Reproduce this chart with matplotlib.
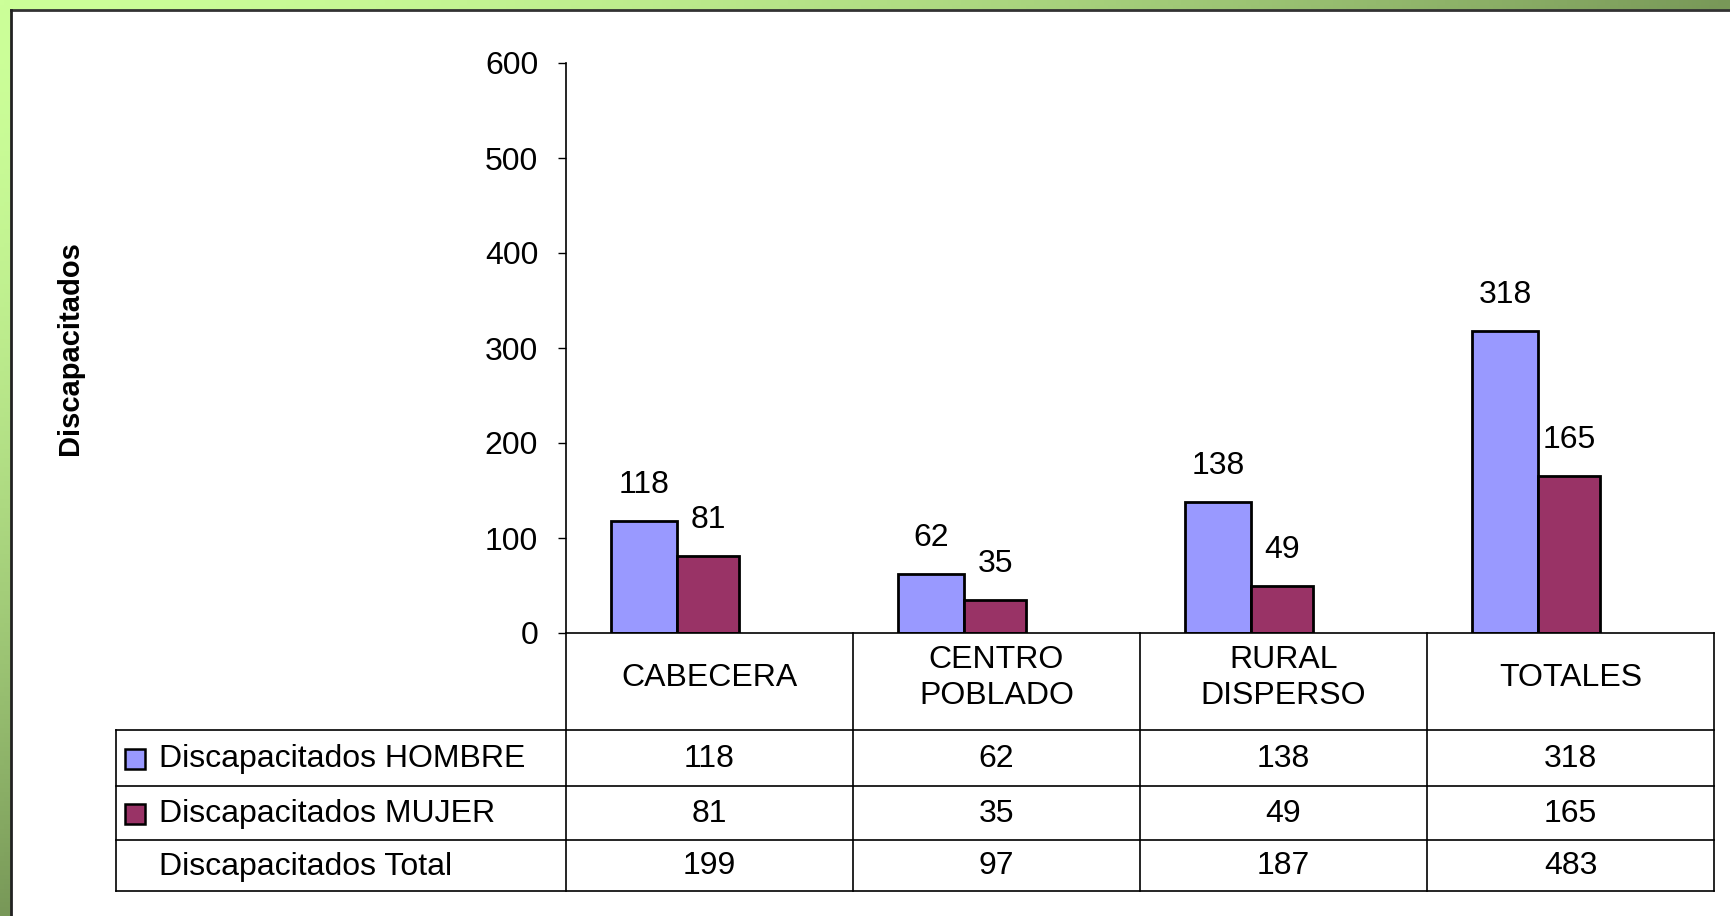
import numpy as np
import matplotlib
matplotlib.use("Agg")
import matplotlib.pyplot as plt
from matplotlib.transforms import blended_transform_factory
from matplotlib.patches import Rectangle

categories = ["CABECERA", "CENTRO\nPOBLADO", "RURAL\nDISPERSO", "TOTALES"]
hombre = [118, 62, 138, 318]
mujer = [81, 35, 49, 165]
total = [199, 97, 187, 483]
series_names = ["Discapacitados HOMBRE", "Discapacitados MUJER", "Discapacitados Total"]
yticks = [0, 100, 200, 300, 400, 500, 600]
ylabel = "Discapacitados"

c_h = "#9999ff"
c_m = "#993366"

plt.rcParams['font.family'] = ['Liberation Sans', 'DejaVu Sans']
FS = 23

W, H = 1731, 916
fig = plt.figure(figsize=(W / 100, H / 100), dpi=100)

# background gradient frame
bg = fig.add_axes([0, 0, 1, 1])
xx, yy = np.meshgrid(np.linspace(0, 1, 400), np.linspace(0, 1, 200))
t = np.clip(xx + yy, 0, 1) ** 1.7
c0 = np.array([204, 255, 153]) / 255
c1 = np.array([120, 152, 88]) / 255
img = c0[None, None, :] * (1 - t[..., None]) + c1[None, None, :] * t[..., None]
bg.imshow(img, extent=[0, W, H, 0], aspect='auto')
bg.set_xlim(0, W)
bg.set_ylim(H, 0)
bg.axis('off')
bg.add_patch(Rectangle((11, 10), W, H, facecolor='white', edgecolor='none'))
bg.plot([11, W], [10, 10], color='#333333', lw=2)
bg.plot([11, 11], [10, H], color='#222222', lw=2)

# main axes (pixel layout)
x0, x1, ytop, ybot = 566, 1714, 63, 633
ax = fig.add_axes([x0 / W, (H - ybot) / H, (x1 - x0) / W, (ybot - ytop) / H])
ax.set_facecolor('none')
n = len(categories)
idx = np.arange(n)
bw = 0.229
ax.bar(idx - 0.342, hombre, width=bw, align='edge', color=c_h, edgecolor='black', linewidth=2, zorder=3)
ax.bar(idx - 0.113, mujer, width=0.217, align='edge', color=c_m, edgecolor='black', linewidth=2, zorder=3)
for i in range(n):
    ax.annotate(str(hombre[i]), (idx[i] - 0.342 + bw / 2, hombre[i]), xytext=(0, 26),
                textcoords='offset points', ha='center', va='center', fontsize=FS)
    ax.annotate(str(mujer[i]), (idx[i] - 0.113 + 0.217 / 2, mujer[i]), xytext=(0, 26),
                textcoords='offset points', ha='center', va='center', fontsize=FS)
ax.set_xlim(-0.5, n - 0.5)
ax.set_ylim(0, 600)
ax.set_yticks(yticks)
ax.set_yticklabels([str(v) for v in yticks], fontsize=FS)
ax.tick_params(axis='y', length=6, width=1, pad=14)
ax.set_xticks([])
for s in ['top', 'right', 'bottom']:
    ax.spines[s].set_visible(False)
ax.spines['left'].set_linewidth(1.2)

fig.text(70 / W, 1 - 348 / H, ylabel, rotation=90, ha='center', va='center',
         fontsize=21, fontweight='bold')

# table (x in data coords, y in pixels)
ov = fig.add_axes([0, 0, 1, 1])
ov.set_xlim(0, W)
ov.set_ylim(H, 0)
ov.axis('off')
tr = blended_transform_factory(ax.transData, ov.transData)
lk = dict(color='black', lw=1.2)
row_y = [730, 786, 840, 891]
tleft = 116
ov.plot([x0, x1], [ybot, ybot], **lk)
for i in range(n + 1):
    ov.plot([i - 0.5, i - 0.5], [ybot, row_y[-1]], transform=tr, **lk)
ov.plot([tleft, tleft], [row_y[0], row_y[-1]], **lk)
for yv in row_y:
    ov.plot([tleft, x1], [yv, yv], **lk)

for i, c in enumerate(categories):
    ov.text(i, 678, c, transform=tr, ha='center', va='center', fontsize=FS, linespacing=1.3)

rows = [hombre, mujer, total]
swatch = [c_h, c_m, None]
for r in range(3):
    yc = (row_y[r] + row_y[r + 1]) / 2 + 1
    if swatch[r]:
        ov.add_patch(Rectangle((125, yc - 10), 20, 20, facecolor=swatch[r], edgecolor='black', lw=1.8))
    ov.text(159, yc, series_names[r], ha='left', va='center', fontsize=FS)
    for i in range(n):
        ov.text(i, yc, str(rows[r][i]), transform=tr, ha='center', va='center', fontsize=FS)

fig.savefig("out.png", dpi=100)
